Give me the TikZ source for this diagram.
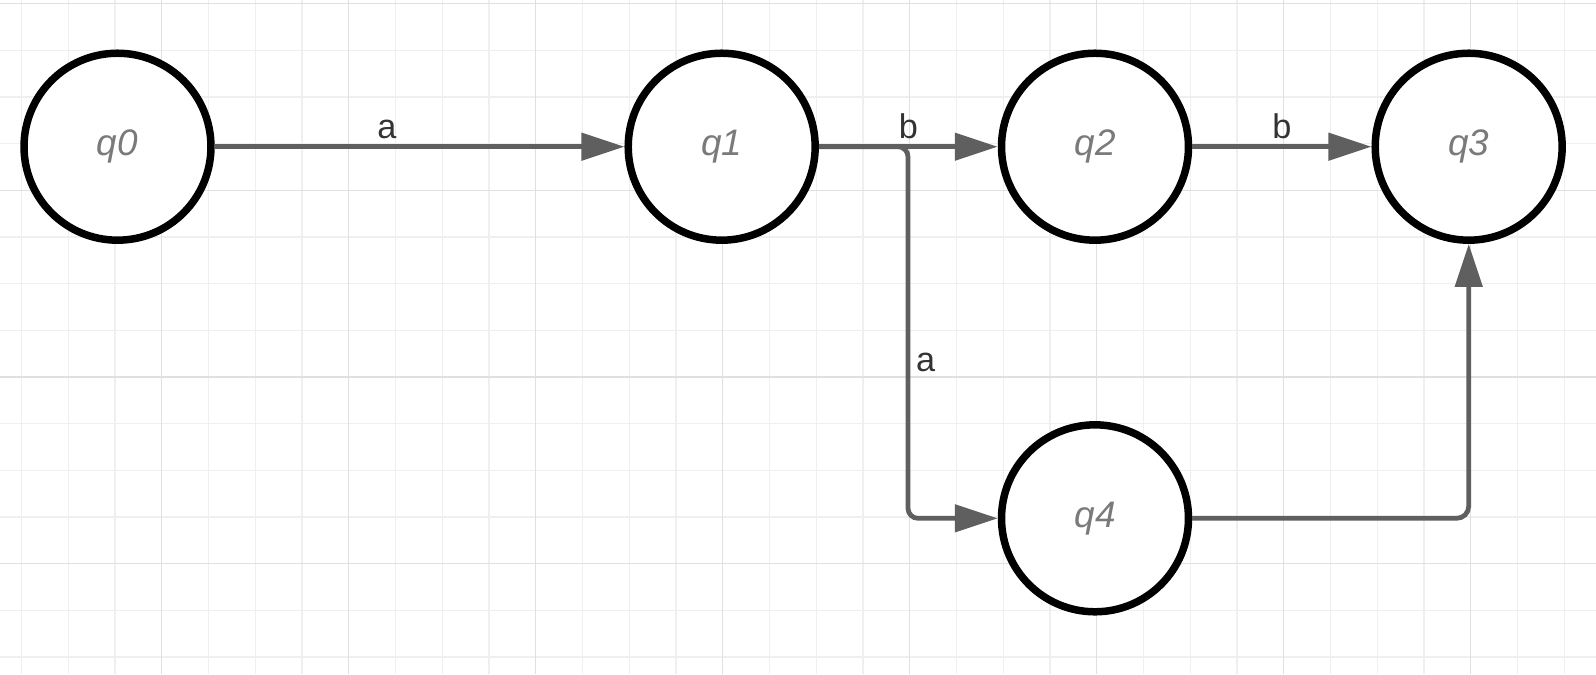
\documentclass[tikz,border=0pt]{standalone}
\usepackage{fontspec}
\setmainfont{Liberation Sans}
\usetikzlibrary{arrows.meta}
\definecolor{gridminor}{HTML}{EFEFEF}
\definecolor{gridmajor}{HTML}{E0E0E0}
\definecolor{edgegray}{HTML}{5F5F5F}
\definecolor{statetext}{HTML}{7A7A7A}
\definecolor{labeltext}{HTML}{333333}
\begin{document}
\begin{tikzpicture}[x=0.02cm, y=-0.02cm,
  state/.style={circle, draw=black, line width=0.15cm, minimum size=3.74cm,
    inner sep=0pt, fill=white, font=\fontsize{21}{23}\selectfont\itshape,
    text=statetext},
  edge/.style={draw=edgegray, line width=0.095cm,
    -{Triangle[length=0.86cm, width=0.54cm]}},
  lbl/.style={font=\fontsize{19.5}{22}\selectfont, text=labeltext},
  gridline/.style={line width=0.026cm}]
\useasboundingbox (0,0) rectangle (1596,674);
\fill[white] (0,0) rectangle (1596,674);
% background grid: minor lines, then every fourth line darker
\foreach \k in {0,...,33}
  \draw[gridline, gridminor] (21.5+\k*46.75,0) -- (21.5+\k*46.75,674);
\foreach \k in {0,...,14}
  \draw[gridline, gridminor] (0,3.7+\k*46.67) -- (1596,3.7+\k*46.67);
\foreach \k in {0,...,7}
  \draw[gridline, gridmajor] (161.75+\k*187,0) -- (161.75+\k*187,674);
\foreach \k in {0,...,3}
  \draw[gridline, gridmajor] (0,3.7+\k*186.68) -- (1596,3.7+\k*186.68);

% states
\node[state] (q0) at (117.5,146.7) {q0};
\node[state] (q1) at (721.7,146.7) {q1};
\node[state] (q2) at (1095,146.7) {q2};
\node[state] (q3) at (1468.7,146.7) {q3};
\node[state] (q4) at (1095,518.3) {q4};

% bend points of the branch from q1 down to q4
\coordinate (br) at (908,146.7);
\coordinate (bl) at (908,518.3);

% transitions
\draw[edge] (q0) -- node[lbl, above, pos=0.42] {a} (q1);
\draw[edge] (q1) -- node[lbl, above] {b} (q2);
\draw[edge] (q2) -- node[lbl, above] {b} (q3);
\draw[edge, rounded corners=0.2cm] (q1.east) -- (br)
  -- node[lbl, right, pos=0.58] {a} (bl) -- (q4.west);
\draw[edge, rounded corners=0.24cm] (q4.east) -| (q3.south);
\end{tikzpicture}
\end{document}
